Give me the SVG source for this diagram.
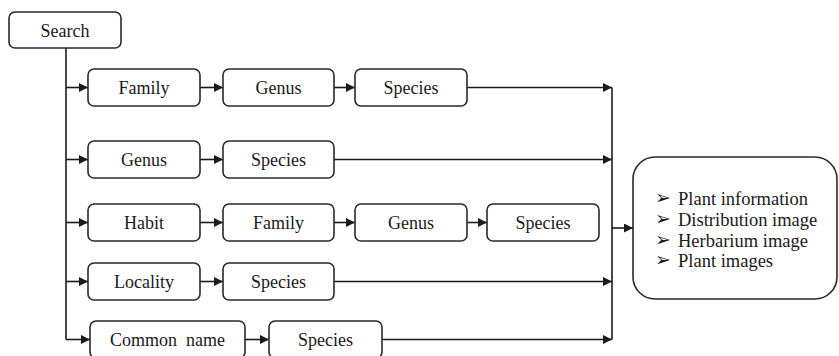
<svg xmlns="http://www.w3.org/2000/svg" width="839" height="356" viewBox="0 0 839 356">
<defs>
<marker id="arr" viewBox="0 0 10 10" refX="10" refY="5" markerWidth="10" markerHeight="9" markerUnits="userSpaceOnUse" orient="auto">
<path d="M0,0 L10,5 L0,10 Z" fill="#1a1a1a"/>
</marker>
<style>
.box{fill:#fff;stroke:#2a2a2a;stroke-width:1.6}
.lbl{font-size:18px;fill:#1a1a1a;text-anchor:middle}
.out{font-size:18.5px;fill:#1a1a1a}
.bul{font-size:19px;fill:#1a1a1a}
.c{fill:none;stroke:#1a1a1a;stroke-width:1.6}
.a{fill:none;stroke:#1a1a1a;stroke-width:1.6;marker-end:url(#arr)}
</style>
</defs>
<rect width="839" height="356" fill="#fff"/>
<g id="connectors">
<path class="c" d="M66 48 V339.5"/>
<path class="a" d="M66 87.5 H88"/>
<path class="a" d="M66 159.5 H88"/>
<path class="a" d="M66 222.5 H88"/>
<path class="a" d="M66 281.5 H88"/>
<path class="a" d="M66 339.5 H90"/>
<path class="a" d="M200 87.5 H223"/>
<path class="a" d="M334 87.5 H355"/>
<path class="a" d="M467 87.5 H612"/>
<path class="a" d="M200 159.5 H223"/>
<path class="a" d="M334 159.5 H612"/>
<path class="a" d="M200 222.5 H223"/>
<path class="a" d="M334 222.5 H355"/>
<path class="a" d="M467 222.5 H487"/>
<path class="a" d="M200 281.5 H223"/>
<path class="a" d="M334 281.5 H612"/>
<path class="a" d="M245 339.5 H269"/>
<path class="a" d="M382 339.5 H612"/>
<path class="c" d="M612 87.5 V339.5"/>
<path class="a" d="M612 228 H633"/>
</g>
<g font-family="'Liberation Serif', 'DejaVu Serif', serif">
<g id="search"><rect class="box" x="9" y="12" width="112" height="36" rx="6"/><text class="lbl" x="65" y="37">Search</text></g>
<g id="r1-family"><rect class="box" x="88" y="69" width="112" height="37" rx="6"/><text class="lbl" x="144" y="93.5">Family</text></g>
<g id="r1-genus"><rect class="box" x="223" y="69" width="111" height="37" rx="6"/><text class="lbl" x="278.5" y="93.5">Genus</text></g>
<g id="r1-species"><rect class="box" x="355" y="69" width="112" height="37" rx="6"/><text class="lbl" x="411" y="93.5">Species</text></g>
<g id="r2-genus"><rect class="box" x="88" y="141" width="112" height="37" rx="6"/><text class="lbl" x="144" y="165.5">Genus</text></g>
<g id="r2-species"><rect class="box" x="223" y="141" width="111" height="37" rx="6"/><text class="lbl" x="278.5" y="165.5">Species</text></g>
<g id="r3-habit"><rect class="box" x="88" y="204" width="112" height="37" rx="6"/><text class="lbl" x="144" y="228.5">Habit</text></g>
<g id="r3-family"><rect class="box" x="223" y="204" width="111" height="37" rx="6"/><text class="lbl" x="278.5" y="228.5">Family</text></g>
<g id="r3-genus"><rect class="box" x="355" y="204" width="112" height="37" rx="6"/><text class="lbl" x="411" y="228.5">Genus</text></g>
<g id="r3-species"><rect class="box" x="487" y="204" width="112" height="37" rx="6"/><text class="lbl" x="543" y="228.5">Species</text></g>
<g id="r4-locality"><rect class="box" x="88" y="263" width="112" height="37" rx="6"/><text class="lbl" x="144" y="287.5">Locality</text></g>
<g id="r4-species"><rect class="box" x="223" y="263" width="111" height="37" rx="6"/><text class="lbl" x="278.5" y="287.5">Species</text></g>
<g id="r5-common"><rect class="box" x="90" y="321" width="155" height="37" rx="6"/><text class="lbl" x="167.5" y="345.5" xml:space="preserve">Common  name</text></g>
<g id="r5-species"><rect class="box" x="269" y="321" width="113" height="37" rx="6"/><text class="lbl" x="325.5" y="345.5">Species</text></g>
<g id="results">
<rect class="box" x="633" y="157" width="204" height="142" rx="22"/>
<text class="bul" x="655" y="204">➢</text><text class="out" x="678" y="205">Plant information</text>
<text class="bul" x="655" y="225">➢</text><text class="out" x="678" y="226">Distribution image</text>
<text class="bul" x="655" y="245.5">➢</text><text class="out" x="678" y="246.5">Herbarium image</text>
<text class="bul" x="655" y="266">➢</text><text class="out" x="678" y="267">Plant images</text>
</g>
</g>
</svg>
